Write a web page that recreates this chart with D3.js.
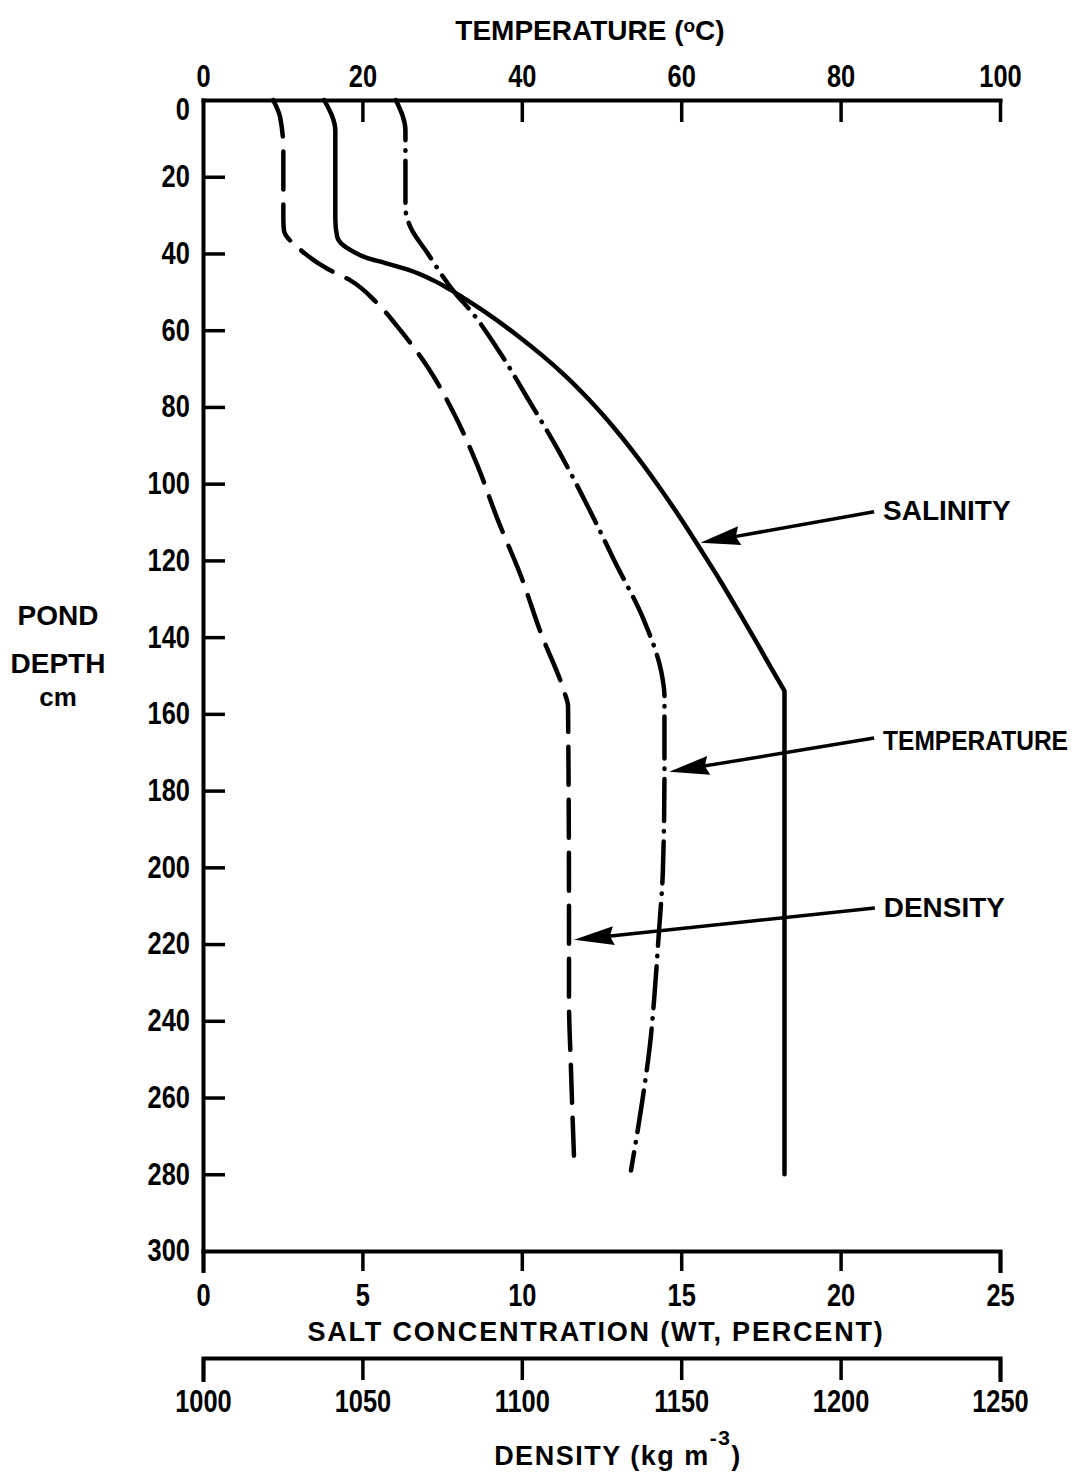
<!DOCTYPE html>
<html>
<head>
<meta charset="utf-8">
<script src="https://cdn.jsdelivr.net/npm/d3@7"></script>
<style>
  body { margin: 0; background: #fff; }
  text { font-family: "Liberation Sans", Arial, sans-serif; font-weight: bold; fill: #000; }
</style>
</head>
<body>
<svg id="chart" width="1081" height="1481"></svg>
<script>
// Axis ticks
const depthTicks = [0, 20, 40, 60, 80, 100, 120, 140, 160, 180, 200, 220, 240, 260, 280, 300];
const temperatureTicks = [0, 20, 40, 60, 80, 100];
const saltTicks = [0, 5, 10, 15, 20, 25];
const densityTicks = [1000, 1050, 1100, 1150, 1200, 1250];

// Salinity profile (wt %) against pond depth (cm)
const salinityDepth   = [0, 8, 31, 35.7, 39.1, 41.2, 42.5, 44.3, 46.9, 49.5, 52.1, 56, 61.3, 66.5, 71.7, 78.2, 86, 93.8, 101.6, 109.4, 117.3, 125.1, 132.9, 140.7, 147.3, 154, 280];
const salinityPercent = [3.8, 4.15, 4.15, 4.21, 4.62, 5.16, 5.72, 6.45, 7.2, 7.77, 8.27, 8.98, 9.85, 10.63, 11.34, 12.12, 12.95, 13.69, 14.37, 15.01, 15.62, 16.21, 16.77, 17.32, 17.77, 18.24, 18.24];
// Top of the uniform-salinity storage layer (cm)
const storageTopDepth = 154;

// Temperature profile (deg C) against pond depth (cm)
const temperatureDepth = [0, 8, 28, 33, 40, 51, 54, 65, 78, 91, 106, 120, 135.5, 149, 155.5, 175, 201, 217, 234.5, 244, 262.5, 279];
const temperatureC     = [24.2, 25.4, 25.4, 26.0, 28.2, 31.9, 33.2, 37.0, 40.8, 44.5, 48.3, 51.6, 55.3, 57.5, 57.9, 57.9, 57.7, 57.2, 56.6, 56.2, 55.0, 53.7];

// Density profile (kg m^-3) against pond depth (cm)
const densityDepth = [0, 4.5, 13, 31, 34, 39, 44, 47, 53, 60, 69.5, 81.5, 95.5, 109.5, 124, 139, 154, 158, 213, 234.5, 252, 276];
const densityKg    = [1022, 1024.2, 1025.2, 1025.2, 1025.4, 1030.5, 1039, 1046.2, 1054.7, 1061.9, 1070.4, 1078.6, 1086.2, 1092.5, 1099.7, 1106, 1113.2, 1114.5, 1114.8, 1114.8, 1115.4, 1116.4];

// Layout
const plotLeft = 203, plotRight = 1000, plotTop = 100, plotBottom = 1251, densityAxisY = 1358;
const tickSquash = 0.82;   // narrow lettering for the tick numbers

const svg = d3.select("#chart");

const y = d3.scaleLinear().domain([0, 300]).range([plotTop, plotBottom]);
const xTemp = d3.scaleLinear().domain([0, 100]).range([plotLeft, plotRight]);
const xSalt = d3.scaleLinear().domain([0, 25]).range([plotLeft, plotRight]);
const xDens = d3.scaleLinear().domain([1000, 1250]).range([plotLeft, plotRight]);

function styleAxis(g) {
  g.selectAll("path.domain").attr("stroke", "#000").attr("stroke-width", 4).attr("fill", "none")
    .attr("stroke-linecap", "square");
  g.selectAll(".tick line").attr("stroke", "#000").attr("stroke-width", 3.5);
  g.selectAll(".tick text").attr("font-size", 31).attr("fill", "#000")
    .attr("transform", `scale(${tickSquash},1)`)
    .style("font-family", '"Liberation Sans", Arial, sans-serif').style("font-weight", "bold");
}

// Top: temperature axis, ticks point into the plot
const gTop = svg.append("g").attr("transform", `translate(0,${plotTop})`)
  .call(d3.axisTop(xTemp).tickValues(temperatureTicks).tickSizeInner(-22).tickSizeOuter(0).tickPadding(13));
styleAxis(gTop);
gTop.selectAll(".tick").filter(d => d === 0).select("line").remove();

// Left: depth axis
const gLeft = svg.append("g").attr("transform", `translate(${plotLeft},0)`)
  .call(d3.axisLeft(y).tickValues(depthTicks).tickSizeInner(-22).tickSizeOuter(0).tickPadding(16));
styleAxis(gLeft);
gLeft.selectAll(".tick").filter(d => d === 0 || d === 300).select("line").remove();
gLeft.selectAll(".tick").filter(d => d === 0).select("text").attr("dy", "0.62em");

// Bottom: salt concentration axis, ticks point outward
const gBottom = svg.append("g").attr("transform", `translate(0,${plotBottom})`)
  .call(d3.axisBottom(xSalt).tickValues(saltTicks).tickSize(20).tickPadding(13));
styleAxis(gBottom);

// Separate density axis below
const gDens = svg.append("g").attr("transform", `translate(0,${densityAxisY})`)
  .call(d3.axisBottom(xDens).tickValues(densityTicks).tickFormat(d3.format("d")).tickSize(22).tickPadding(10));
styleAxis(gDens);

// Profiles
const plot = svg.append("g");

// Smooth profile; an optional break depth keeps a sharp corner there
function profile(depths, values, xScale, breakDepth) {
  const pts = depths.map((d, i) => [xScale(values[i]), y(d)]);
  const line = d3.line().curve(d3.curveMonotoneY);
  if (breakDepth === undefined) return line(pts);
  const k = depths.indexOf(breakDepth);
  const upper = line(pts.slice(0, k + 1));
  const lower = line(pts.slice(k));
  return upper + lower.replace(/^M/, "L");
}

plot.append("path")
  .attr("d", profile(salinityDepth, salinityPercent, xSalt, storageTopDepth))
  .attr("fill", "none").attr("stroke", "#000").attr("stroke-width", 4.5)
  .attr("stroke-linejoin", "round").attr("stroke-linecap", "round");

plot.append("path")
  .attr("d", profile(temperatureDepth, temperatureC, xTemp))
  .attr("fill", "none").attr("stroke", "#000").attr("stroke-width", 4.5)
  .attr("stroke-dasharray", "42 10 0.5 10")
  .attr("stroke-linecap", "round");

plot.append("path")
  .attr("d", profile(densityDepth, densityKg, xDens))
  .attr("fill", "none").attr("stroke", "#000").attr("stroke-width", 4.5)
  .attr("stroke-dasharray", "38 15")
  .attr("stroke-linecap", "round");

// Curve labels with arrows (label end in temperature-axis units, tip in each series' own units)
const callouts = [
  { text: "SALINITY",    width: 130, labelDepth: 106.8, tailDepth: 107.3, tail: 84.2, tipDepth: 115.4, tipX: xSalt(15.6) },
  { text: "TEMPERATURE", width: 185, labelDepth: 166.8, tailDepth: 166.3, tail: 84.2, tipDepth: 175.1, tipX: xTemp(58.5) },
  { text: "DENSITY",     width: 121, labelDepth: 210.3, tailDepth: 210.6, tail: 84.3, tipDepth: 218.9, tipX: xDens(1116.4) }
];

const ann = svg.append("g");
callouts.forEach(c => {
  const x0 = xTemp(c.tail), y0 = y(c.tailDepth);
  const x1 = c.tipX, y1 = y(c.tipDepth);
  const dx = x0 - x1, dy = y0 - y1, len = Math.hypot(dx, dy);
  const ux = dx / len, uy = dy / len, px = -uy, py = ux;
  const L = 40, W = 9.5;
  ann.append("line")
    .attr("x1", x0).attr("y1", y0).attr("x2", x1 + ux * L * 0.8).attr("y2", y1 + uy * L * 0.8)
    .attr("stroke", "#000").attr("stroke-width", 3.5);
  ann.append("path")
    .attr("d", `M${x1},${y1} L${x1 + ux * L + px * W},${y1 + uy * L + py * W} L${x1 + ux * L * 0.9},${y1 + uy * L * 0.9} L${x1 + ux * L - px * W},${y1 + uy * L - py * W} Z`)
    .attr("fill", "#000");
  const t = ann.append("text").attr("dy", "0.36em").attr("font-size", 28).text(c.text);
  const natural = t.node().getComputedTextLength();
  const s = Math.min(1, c.width / natural);
  t.attr("transform", `translate(${xTemp(c.tail) + 9},${y(c.labelDepth)}) scale(${s},1)`);
});

// Axis titles
const tTitle = svg.append("text").attr("x", 590).attr("y", 30).attr("dy", "0.36em")
  .attr("text-anchor", "middle").attr("font-size", 28);
tTitle.append("tspan").text("TEMPERATURE (");
tTitle.append("tspan").attr("dy", -8).attr("font-size", 19).text("o");
tTitle.append("tspan").attr("dy", 8).text("C)");

svg.append("text").attr("x", 596).attr("y", 1331).attr("dy", "0.36em")
  .attr("text-anchor", "middle").attr("font-size", 27).style("letter-spacing", "1.8px")
  .text("SALT CONCENTRATION (WT, PERCENT)");

const dTitle = svg.append("text").attr("x", 618).attr("y", 1455).attr("dy", "0.36em")
  .attr("text-anchor", "middle").attr("font-size", 27).style("letter-spacing", "1.5px");
dTitle.append("tspan").text("DENSITY  (kg m");
dTitle.append("tspan").attr("dy", -20).attr("font-size", 21).text("-3");
dTitle.append("tspan").attr("dy", 20).text(")");

const yTitle = svg.append("g").attr("transform", "translate(58,0)");
yTitle.append("text").attr("y", 615).attr("dy", "0.36em").attr("text-anchor", "middle").attr("font-size", 28).text("POND");
yTitle.append("text").attr("y", 663).attr("dy", "0.36em").attr("text-anchor", "middle").attr("font-size", 28).text("DEPTH");
yTitle.append("text").attr("y", 697).attr("dy", "0.36em").attr("text-anchor", "middle").attr("font-size", 26).text("cm");
</script>
</body>
</html>
